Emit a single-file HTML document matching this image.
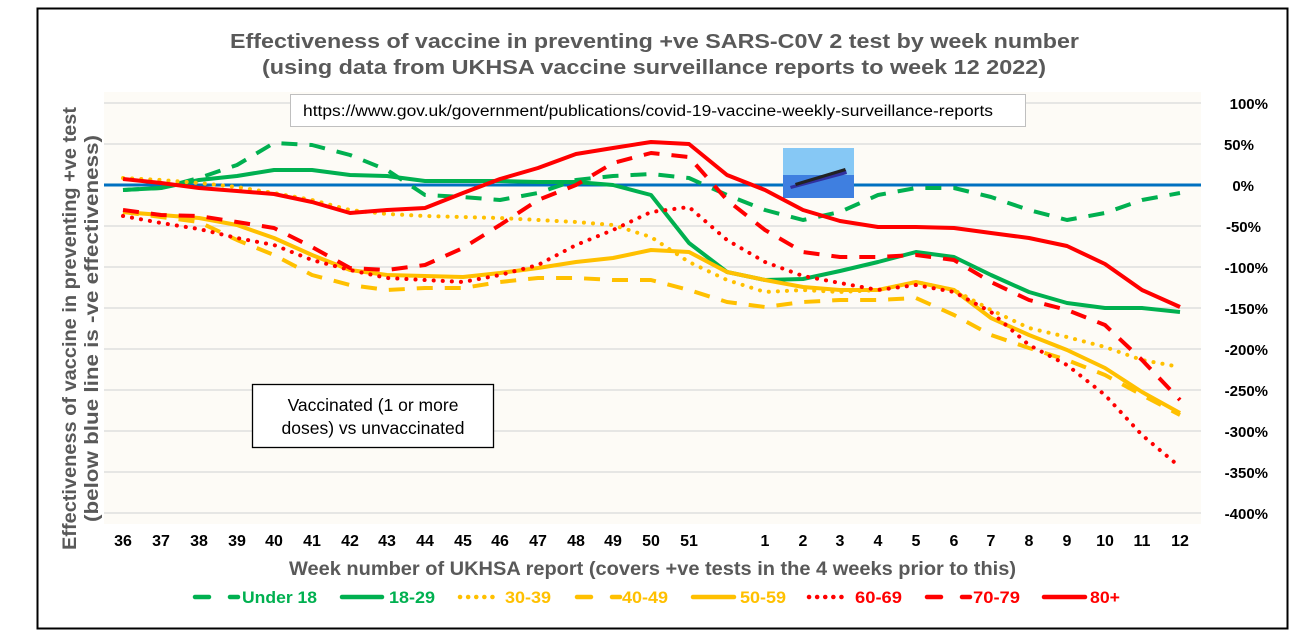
<!DOCTYPE html>
<html><head><meta charset="utf-8"><style>
html,body{margin:0;padding:0;background:#fff;width:1298px;height:638px;overflow:hidden}
svg{display:block;font-family:"Liberation Sans",Arial,sans-serif}
</style></head><body>
<svg width="1298" height="638" viewBox="0 0 1298 638" xmlns="http://www.w3.org/2000/svg">
<rect x="0" y="0" width="1298" height="638" fill="#fff"/>
<rect x="37.5" y="8.5" width="1250" height="620" fill="#fff" stroke="#000" stroke-width="2"/>
<rect x="104" y="92" width="1097" height="432" fill="#FDFBF6"/>
<g stroke="#D9D9D9" stroke-width="1.3">
<line x1="104" x2="1201" y1="103" y2="103"/><line x1="104" x2="1201" y1="144" y2="144"/>
<line x1="104" x2="1201" y1="226" y2="226"/><line x1="104" x2="1201" y1="267" y2="267"/>
<line x1="104" x2="1201" y1="308" y2="308"/><line x1="104" x2="1201" y1="349" y2="349"/>
<line x1="104" x2="1201" y1="390" y2="390"/><line x1="104" x2="1201" y1="431" y2="431"/>
<line x1="104" x2="1201" y1="472" y2="472"/><line x1="104" x2="1201" y1="513" y2="513"/>
</g>
<line x1="104" x2="1201" y1="185" y2="185" stroke="#0070C0" stroke-width="3"/>
<text x="230" y="48" textLength="849" lengthAdjust="spacingAndGlyphs" font-size="20" font-weight="bold" fill="#595959">Effectiveness of vaccine in preventing +ve SARS-C0V 2 test by week number</text>
<text x="262" y="74" textLength="784" lengthAdjust="spacingAndGlyphs" font-size="20" font-weight="bold" fill="#595959">(using data from UKHSA vaccine surveillance reports to week 12 2022)</text>
<rect x="290.5" y="94.5" width="735" height="32" fill="#fff" stroke="#BFBFBF"/>
<text x="303" y="116" textLength="690" lengthAdjust="spacingAndGlyphs" font-size="15.5" fill="#000">https://www.gov.uk/government/publications/covid-19-vaccine-weekly-surveillance-reports</text>
<rect x="783" y="148" width="71" height="50" fill="#86C8F5"/>
<rect x="783" y="175" width="71" height="23" fill="#3F7FE0"/>
<polygon points="790,186 846,170 847,174 791,189" fill="#3030a0"/>
<polygon points="795,183 845,168 846,171 796,186" fill="#222"/>
<g font-size="15" font-weight="bold" fill="#000" text-anchor="end">
<text x="1268" y="109">100%</text><text x="1254" y="150">50%</text><text x="1254" y="191">0%</text>
<text x="1261" y="232">-50%</text><text x="1268" y="273">-100%</text><text x="1268" y="314">-150%</text>
<text x="1268" y="355">-200%</text><text x="1268" y="396">-250%</text><text x="1268" y="437">-300%</text>
<text x="1268" y="478">-350%</text><text x="1268" y="519">-400%</text>
</g>
<g font-size="16" font-weight="bold" fill="#000" text-anchor="middle">
<text x="123" y="546">36</text><text x="161" y="546">37</text><text x="199" y="546">38</text><text x="237" y="546">39</text>
<text x="274" y="546">40</text><text x="312" y="546">41</text><text x="350" y="546">42</text><text x="387" y="546">43</text>
<text x="425" y="546">44</text><text x="463" y="546">45</text><text x="500" y="546">46</text><text x="538" y="546">47</text>
<text x="576" y="546">48</text><text x="613" y="546">49</text><text x="651" y="546">50</text><text x="689" y="546">51</text>
<text x="765" y="546">1</text><text x="803" y="546">2</text><text x="840" y="546">3</text><text x="878" y="546">4</text>
<text x="916" y="546">5</text><text x="954" y="546">6</text><text x="991" y="546">7</text><text x="1029" y="546">8</text>
<text x="1067" y="546">9</text><text x="1105" y="546">10</text><text x="1142" y="546">11</text><text x="1180" y="546">12</text>
</g>
<text x="289" y="575" textLength="727" lengthAdjust="spacingAndGlyphs" font-size="19" font-weight="bold" fill="#595959">Week number of UKHSA report (covers +ve tests in the 4 weeks prior to this)</text>
<g transform="translate(76,550) rotate(-90)"><text x="0" y="0" textLength="443" lengthAdjust="spacingAndGlyphs" font-size="19" font-weight="bold" fill="#595959">Effectiveness of vaccine in preventing +ve test</text></g>
<g transform="translate(98,522) rotate(-90)"><text x="0" y="0" textLength="387" lengthAdjust="spacingAndGlyphs" font-size="19" font-weight="bold" fill="#595959">(below blue line is -ve effectiveness)</text></g>
<rect x="252.5" y="384.5" width="241" height="63" fill="#fff" stroke="#000" stroke-width="1.3"/>
<text x="373" y="411" text-anchor="middle" font-size="17.5" fill="#000">Vaccinated (1 or more</text>
<text x="373" y="434" text-anchor="middle" font-size="17.5" fill="#000">doses) vs unvaccinated</text>
<g fill="none" stroke-width="4" stroke-linejoin="round">
<polyline stroke="#00B050" stroke-dasharray="16,12" points="123,190 161,188 199,178 237,165 274,143 312,145 350,155 387,170 425,195 463,197 500,200 538,193 576,180 613,176 651,174 689,178 727,195 765,210 803,220 840,212 878,195 916,188 954,188 991,197 1029,210 1067,220 1105,213 1142,200 1180,193"/>
<polyline stroke="#00B050" points="123,190 161,188 199,180 237,176 274,170 312,170 350,175 387,176 425,181 463,181 500,181 538,182 576,182 613,185 651,195 689,243 727,272 765,280 803,279 840,271 878,262 916,252 954,257 991,275 1029,292 1067,303 1105,308 1142,308 1180,312"/>
<polyline stroke="#FFC000" stroke-dasharray="0.1,9" stroke-linecap="round" points="123,178 161,180 199,183 237,187 274,193 312,200 350,210 387,214 425,216 463,217 500,218 538,220 576,222 613,225 651,237 689,262 727,280 765,292 803,290 840,292 878,290 916,282 954,290 991,310 1029,328 1067,337 1105,347 1142,360 1180,367"/>
<polyline stroke="#FFC000" stroke-dasharray="16,12" points="123,212 161,217 199,222 237,240 274,255 312,275 350,285 387,290 425,288 463,288 500,282 538,278 576,278 613,280 651,280 689,290 727,302 765,307 803,302 840,300 878,300 916,298 954,315 991,335 1029,348 1067,360 1105,375 1142,395 1180,415"/>
<polyline stroke="#FFC000" points="123,212 161,215 199,218 237,225 274,238 312,255 350,270 387,275 425,276 463,277 500,273 538,268 576,262 613,258 651,250 689,252 727,272 765,280 803,287 840,290 878,290 916,282 954,290 991,318 1029,335 1067,350 1105,368 1142,392 1180,413"/>
<polyline stroke="#FF0000" stroke-dasharray="0.1,9" stroke-linecap="round" points="123,216 161,223 199,229 237,238 274,245 312,260 350,270 387,278 425,280 463,282 500,275 538,265 576,245 613,230 651,212 689,207 727,240 765,262 803,276 840,283 878,290 916,285 954,292 991,312 1029,345 1067,365 1105,395 1142,435 1180,467"/>
<polyline stroke="#FF0000" stroke-dasharray="16,12" points="123,210 161,215 199,216 237,222 274,228 312,247 350,268 387,270 425,265 463,248 500,225 538,200 576,185 613,163 651,153 689,157 727,200 765,230 803,252 840,257 878,257 916,255 954,260 991,282 1029,300 1067,310 1105,325 1142,360 1180,400"/>
<polyline stroke="#FF0000" points="123,179 161,183 199,188 237,191 274,194 312,202 350,213 387,210 425,208 463,193 500,179 538,168 576,154 613,148 651,142 689,144 727,175 765,190 803,210 840,221 878,227 916,227 954,228 991,233 1029,238 1067,246 1105,264 1142,290 1180,307"/>
</g>
<g stroke-width="4.5" fill="none" stroke-linecap="round">
<line x1="195" x2="238" y1="597" y2="597" stroke="#00B050" stroke-dasharray="14,21"/>
<line x1="342" x2="382" y1="597" y2="597" stroke="#00B050"/>
<line x1="460" x2="500" y1="597" y2="597" stroke="#FFC000" stroke-dasharray="0.1,8"/>
<line x1="577" x2="620" y1="597" y2="597" stroke="#FFC000" stroke-dasharray="14,21"/>
<line x1="693" x2="734" y1="597" y2="597" stroke="#FFC000"/>
<line x1="809" x2="849" y1="597" y2="597" stroke="#FF0000" stroke-dasharray="0.1,8"/>
<line x1="927" x2="970" y1="597" y2="597" stroke="#FF0000" stroke-dasharray="14,21"/>
<line x1="1044" x2="1085" y1="597" y2="597" stroke="#FF0000"/>
</g>
<g font-size="17" font-weight="bold">
<text x="242" y="603" fill="#00B050" textLength="75" lengthAdjust="spacingAndGlyphs">Under 18</text>
<text x="389" y="603" fill="#00B050" textLength="46" lengthAdjust="spacingAndGlyphs">18-29</text>
<text x="505" y="603" fill="#FFC000" textLength="46" lengthAdjust="spacingAndGlyphs">30-39</text>
<text x="622" y="603" fill="#FFC000" textLength="46" lengthAdjust="spacingAndGlyphs">40-49</text>
<text x="740" y="603" fill="#FFC000" textLength="46" lengthAdjust="spacingAndGlyphs">50-59</text>
<text x="855" y="603" fill="#FF0000" textLength="47" lengthAdjust="spacingAndGlyphs">60-69</text>
<text x="973" y="603" fill="#FF0000" textLength="47" lengthAdjust="spacingAndGlyphs">70-79</text>
<text x="1090" y="603" fill="#FF0000" textLength="30" lengthAdjust="spacingAndGlyphs">80+</text>
</g>
</svg>
</body></html>
